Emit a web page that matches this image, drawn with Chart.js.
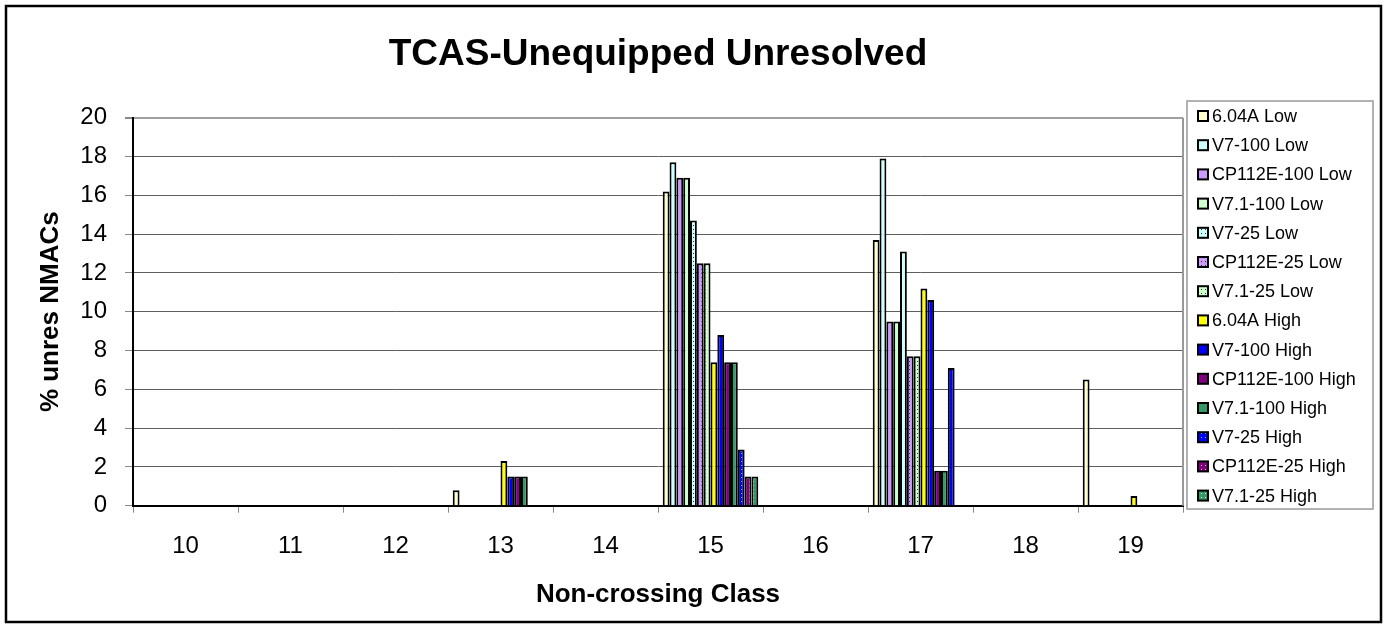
<!DOCTYPE html>
<html>
<head>
<meta charset="utf-8">
<title>TCAS-Unequipped Unresolved</title>
<script src="https://cdn.jsdelivr.net/npm/chart.js@4.4.1/dist/chart.umd.min.js"></script>
<style>
    html, body { margin: 0; padding: 0; background: #fff; }
    #wrap { width: 1385px; height: 627px; }
</style>
</head>
<body>
<div id="wrap"><canvas id="nmacChart" width="1385" height="627"></canvas></div>
<script>
// ============================================
// DATA
// ============================================

const classes = ['10', '11', '12', '13', '14', '15', '16', '17', '18', '19'];

const seriesNames = [
    '6.04A Low', 'V7-100 Low', 'CP112E-100 Low', 'V7.1-100 Low',
    'V7-25 Low', 'CP112E-25 Low', 'V7.1-25 Low',
    '6.04A High', 'V7-100 High', 'CP112E-100 High', 'V7.1-100 High',
    'V7-25 High', 'CP112E-25 High', 'V7.1-25 High'
];

// % unresolved NMACs per non-crossing class (10..19)
const v604aLow       = [0, 0, 0, 0.8, 0, 16.2, 0, 13.7, 0, 6.5];
const v7_100Low      = [0, 0, 0, 0, 0, 17.7, 0, 17.9, 0, 0];
const cp112e_100Low  = [0, 0, 0, 0, 0, 16.9, 0, 9.5, 0, 0];
const v71_100Low     = [0, 0, 0, 0, 0, 16.9, 0, 9.5, 0, 0];
const v7_25Low       = [0, 0, 0, 0, 0, 14.7, 0, 13.1, 0, 0];
const cp112e_25Low   = [0, 0, 0, 0, 0, 12.5, 0, 7.7, 0, 0];
const v71_25Low      = [0, 0, 0, 0, 0, 12.5, 0, 7.7, 0, 0];
const v604aHigh      = [0, 0, 0, 2.3, 0, 7.4, 0, 11.2, 0, 0.5];
const v7_100High     = [0, 0, 0, 1.5, 0, 8.8, 0, 10.6, 0, 0];
const cp112e_100High = [0, 0, 0, 1.5, 0, 7.4, 0, 1.8, 0, 0];
const v71_100High    = [0, 0, 0, 1.5, 0, 7.4, 0, 1.8, 0, 0];
const v7_25High      = [0, 0, 0, 0, 0, 2.9, 0, 7.1, 0, 0];
const cp112e_25High  = [0, 0, 0, 0, 0, 1.5, 0, 0, 0, 0];
const v71_25High     = [0, 0, 0, 0, 0, 1.5, 0, 0, 0, 0];

const seriesValues = [
    v604aLow, v7_100Low, cp112e_100Low, v71_100Low,
    v7_25Low, cp112e_25Low, v71_25Low,
    v604aHigh, v7_100High, cp112e_100High, v71_100High,
    v7_25High, cp112e_25High, v71_25High
];

// ============================================
// STYLE
// ============================================

const FONT = '"Liberation Sans", Arial, sans-serif';

// base colour, dot colour (null = solid fill)
const seriesFills = [
    ['#FFFFCC', null], ['#CCFFFF', null], ['#CC99FF', null], ['#CCFFCC', null],
    ['#CCFFFF', '#333333'], ['#CC99FF', '#333333'], ['#CCFFCC', '#333333'],
    ['#FFFF00', null], ['#0000FF', null], ['#800080', null], ['#339966', null],
    ['#0000FF', '#33CCFF'], ['#800080', '#FF99CC'], ['#339966', '#CCFFCC']
];

function makeDots(base, dot) {
    const c = document.createElement('canvas');
    c.width = 4;
    c.height = 4;
    const g = c.getContext('2d');
    g.fillStyle = base;
    g.fillRect(0, 0, 4, 4);
    g.fillStyle = dot;
    g.fillRect(1, 1, 1, 1);
    return g.createPattern(c, 'repeat');
}

function fillFor(i) {
    const [base, dot] = seriesFills[i];
    return dot ? makeDots(base, dot) : base;
}

// ============================================
// PLUGINS
// ============================================

const chartFrame = {
    id: 'chartFrame',
    beforeDraw(chart) {
        const ctx = chart.ctx;
        ctx.save();
        ctx.fillStyle = '#fff';
        ctx.fillRect(0, 0, chart.width, chart.height);
        ctx.restore();
    },
    afterDraw(chart) {
        const ctx = chart.ctx;
        const area = chart.chartArea;
        ctx.save();
        // plot area right border
        ctx.strokeStyle = '#999';
        ctx.lineWidth = 2;
        ctx.beginPath();
        ctx.moveTo(area.right, area.top);
        ctx.lineTo(area.right, area.bottom);
        ctx.stroke();
        // outer frame
        ctx.strokeStyle = '#000';
        ctx.lineWidth = 2.5;
        ctx.strokeRect(6, 6, 1375, 616);
        ctx.restore();
    }
};

const legendBox = {
    id: 'legendBox',
    afterDraw(chart) {
        const ctx = chart.ctx;
        ctx.save();
        ctx.fillStyle = '#fff';
        ctx.fillRect(1187, 101, 186, 408);
        ctx.strokeStyle = '#999';
        ctx.lineWidth = 1.5;
        ctx.strokeRect(1187, 101, 186, 408);
        ctx.font = '18px ' + FONT;
        ctx.textBaseline = 'middle';
        ctx.textAlign = 'left';
        chart.data.datasets.forEach((ds, i) => {
            const y = 116 + i * 29.2;
            ctx.fillStyle = ds.backgroundColor;
            ctx.fillRect(1198, y - 5, 10, 10);
            ctx.strokeStyle = '#000';
            ctx.lineWidth = 2;
            ctx.strokeRect(1198, y - 5, 10, 10);
            ctx.fillStyle = '#000';
            ctx.fillText(ds.label, 1212, y + 1);
        });
        ctx.restore();
    }
};

// ============================================
// CHART
// ============================================

const datasets = seriesNames.map((name, i) => ({
    label: name,
    data: seriesValues[i],
    backgroundColor: fillFor(i),
    borderColor: '#000',
    borderWidth: 2,
    categoryPercentage: 0.91,
    barPercentage: 1.0
}));

new Chart(document.getElementById('nmacChart'), {
    type: 'bar',
    data: { labels: classes, datasets: datasets },
    options: {
        responsive: false,
        devicePixelRatio: 1,
        animation: false,
        layout: { padding: { left: 0, right: 202, top: 0, bottom: 0 } },
        plugins: {
            legend: { display: false },
            tooltip: { enabled: false },
            title: {
                display: true,
                fullSize: false,
                text: 'TCAS-Unequipped Unresolved',
                color: '#000',
                font: { family: FONT, size: 37, weight: 'bold', lineHeight: 1.2 },
                padding: { top: 33, bottom: 40.3 }
            }
        },
        scales: {
            x: {
                afterFit: (scale) => { scale.height = 121.3; },
                grid: {
                    drawOnChartArea: false,
                    offset: true,
                    tickLength: 7,
                    tickColor: '#888'
                },
                border: { color: '#000', width: 2 },
                ticks: {
                    color: '#000',
                    padding: 19,
                    font: { family: FONT, size: 24 }
                },
                title: {
                    display: true,
                    text: 'Non-crossing Class',
                    color: '#000',
                    font: { family: FONT, size: 26, weight: 'bold', lineHeight: 1.2 },
                    padding: { top: 0, bottom: 17 }
                }
            },
            y: {
                min: 0,
                max: 20,
                afterFit: (scale) => { scale.width = 133; },
                grid: {
                    color: (c) => (c.tick && c.tick.value === 20 ? '#a0a0a0' : '#5e5e5e'),
                    lineWidth: (c) => (c.tick && c.tick.value === 20 ? 2 : 1),
                    tickLength: 8,
                    tickColor: '#888'
                },
                border: { color: '#000', width: 2 },
                ticks: {
                    stepSize: 2,
                    color: '#000',
                    padding: 18,
                    font: { family: FONT, size: 24 }
                },
                title: {
                    display: true,
                    text: '% unres NMACs',
                    color: '#000',
                    font: { family: FONT, size: 26, weight: 'bold', lineHeight: 1.2 },
                    padding: { top: 35.4, bottom: 0 }
                }
            }
        }
    },
    plugins: [chartFrame, legendBox]
});
</script>
</body>
</html>
